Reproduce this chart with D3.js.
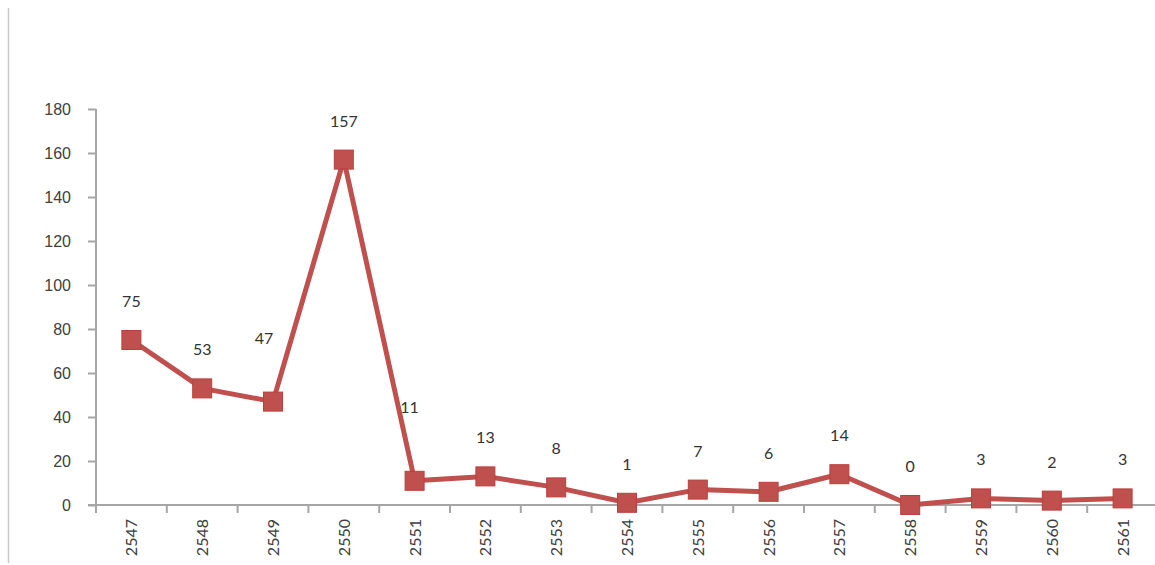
<!DOCTYPE html>
<html>
<head>
<meta charset="utf-8">
<script src="https://cdn.jsdelivr.net/npm/d3@7"></script>
<style>
  body { margin: 0; background: #fff; }
  svg { display: block; font-family: Lato, "Open Sans", sans-serif; }
</style>
</head>
<body>
<svg id="chart"></svg>
<script>
var years = ['2547', '2548', '2549', '2550', '2551', '2552', '2553', '2554', '2555', '2556', '2557', '2558', '2559', '2560', '2561']
var counts = [75, 53, 47, 157, 11, 13, 8, 1, 7, 6, 14, 0, 3, 2, 3]
var yTicks = [0, 20, 40, 60, 80, 100, 120, 140, 160, 180]

;(function () {
  var width = 1155; var height = 565
  var red = '#C0504D'
  var axisColor = '#a6a6a6'

  var svg = d3.select('#chart')
    .attr('width', width)
    .attr('height', height)

  var datapoints = years.map((y, i) => ({ year: y, value: counts[i] }))

  const xScale = d3.scaleBand()
    .domain(years)
    .range([96, 1158])

  const yScale = d3.scaleLinear()
    .domain([0, 180])
    .range([505, 109])

  // thin frame line on the left
  svg.append('line')
    .attr('x1', 8.5).attr('x2', 8.5)
    .attr('y1', 8).attr('y2', 563)
    .attr('stroke', '#c8c8c8')
    .attr('stroke-width', 1.5)

  // y axis
  const yAxis = d3.axisLeft(yScale)
    .tickValues(yTicks)
    .tickSize(8)
    .tickPadding(17)
  const gy = svg.append('g')
    .attr('transform', 'translate(96,0)')
    .call(yAxis)
  gy.select('.domain').remove()
  gy.append('line')
    .attr('x1', 0).attr('x2', 0)
    .attr('y1', yScale(180)).attr('y2', 513)
    .attr('stroke', axisColor).attr('stroke-width', 2)
  gy.selectAll('.tick line').attr('stroke', axisColor).attr('stroke-width', 2)
  gy.selectAll('.tick text')
    .attr('fill', '#404040')
    .attr('font-size', 16)

  // x axis line out to the right edge
  svg.append('line')
    .attr('x1', 88).attr('x2', width)
    .attr('y1', yScale(0)).attr('y2', yScale(0))
    .attr('stroke', axisColor).attr('stroke-width', 2)

  // x ticks on band edges
  svg.selectAll('.xtick')
    .data(years.slice(1))
    .enter().append('line')
    .attr('class', 'xtick')
    .attr('x1', d => xScale(d)).attr('x2', d => xScale(d))
    .attr('y1', yScale(0)).attr('y2', 513)
    .attr('stroke', axisColor).attr('stroke-width', 2)

  // rotated x labels
  svg.selectAll('.xlabel')
    .data(years)
    .enter().append('text')
    .attr('class', 'xlabel')
    .attr('transform', d => {
      var x = xScale(d) + xScale.bandwidth() / 2 + 6
      return 'translate(' + x + ',519) rotate(-90)'
    })
    .attr('text-anchor', 'end')
    .attr('font-size', 16)
    .attr('fill', '#404040')
    .text(d => d)

  const cx = d => xScale(d.year) + xScale.bandwidth() / 2

  const line = d3.line()
    .x(cx)
    .y(d => yScale(d.value))

  svg.append('path')
    .datum(datapoints)
    .attr('d', line)
    .attr('fill', 'none')
    .attr('stroke', red)
    .attr('stroke-width', 5)
    .attr('stroke-linejoin', 'round')

  var s = 19
  svg.selectAll('.marker')
    .data(datapoints)
    .enter().append('rect')
    .attr('class', 'marker')
    .attr('x', d => cx(d) - s / 2)
    .attr('y', d => yScale(d.value) - s / 2)
    .attr('width', s)
    .attr('height', s)
    .attr('fill', red)
    .attr('stroke', '#b9403d')
    .attr('stroke-width', 1)

  // a couple of labels were moved by hand in the original
  var nudge = { '2549': [-9, -25], '2551': [-5, -35] }

  svg.selectAll('.vlabel')
    .data(datapoints)
    .enter().append('text')
    .attr('class', 'vlabel')
    .attr('x', d => cx(d) + (nudge[d.year] ? nudge[d.year][0] : 0))
    .attr('y', d => yScale(d.value) - 33 + (nudge[d.year] ? nudge[d.year][1] : 0))
    .attr('text-anchor', 'middle')
    .attr('font-size', 16)
    .attr('fill', '#333')
    .text(d => d.value)
})()
</script>
</body>
</html>
